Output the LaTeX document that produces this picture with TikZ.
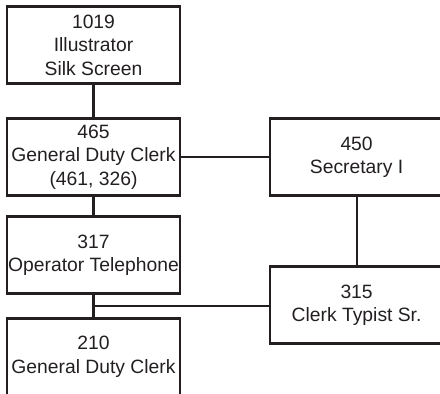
\documentclass[tikz,border=0pt]{standalone}
\usepackage{fontspec}
\setmainfont{Liberation Sans}
\usetikzlibrary{positioning,calc}
\definecolor{ink}{HTML}{231F20}
\tikzset{
  job box/.style={
    draw=ink,
    line width=2.6pt,
    text=ink,
    align=center,
    minimum width=173pt,
    minimum height=77pt,
    inner sep=0pt,
    font=\fontsize{19.3}{23.5}\selectfont,
  },
  job link/.style={
    draw=ink,
    line width=2.1pt,
  },
}
\begin{document}
\begin{tikzpicture}[x=1pt,y=1pt,node distance=33pt and 88pt]
  \useasboundingbox (0,0) rectangle (440,-394);

  % --- Left column ---
  \node[job box] (j1019) at (93.5,-45) {1019\\Illustrator\\Silk Screen};
  \node[job box, below=32.5pt of j1019] (j465) {465\\General Duty Clerk\\(461, 326)};
  \node[job box, below=18.5pt of j465] (j317) {317\\Operator Telephone};
  \node[job box, below=22pt of j317] (j210) {210\\General Duty Clerk};

  % --- Right column ---
  \node[job box, right=87.5pt of j465] (j450) {450\\Secretary I};
  \node[job box, below=68.5pt of j450] (j315) {315\\Clerk Typist Sr.};

  % --- Connections ---
  \draw[job link] (j1019) -- (j465);
  \draw[job link] (j465) -- (j317);
  \draw[job link] (j465) -- (j450);
  \draw[job link] (j450) -- (j315);
  \draw[job link] (j317) -- (j210);
  \coordinate (split) at ($(j317.south)!0.5!(j210.north)$);
  \draw[job link] (split) -- (split -| j315.west);

\end{tikzpicture}
\end{document}
